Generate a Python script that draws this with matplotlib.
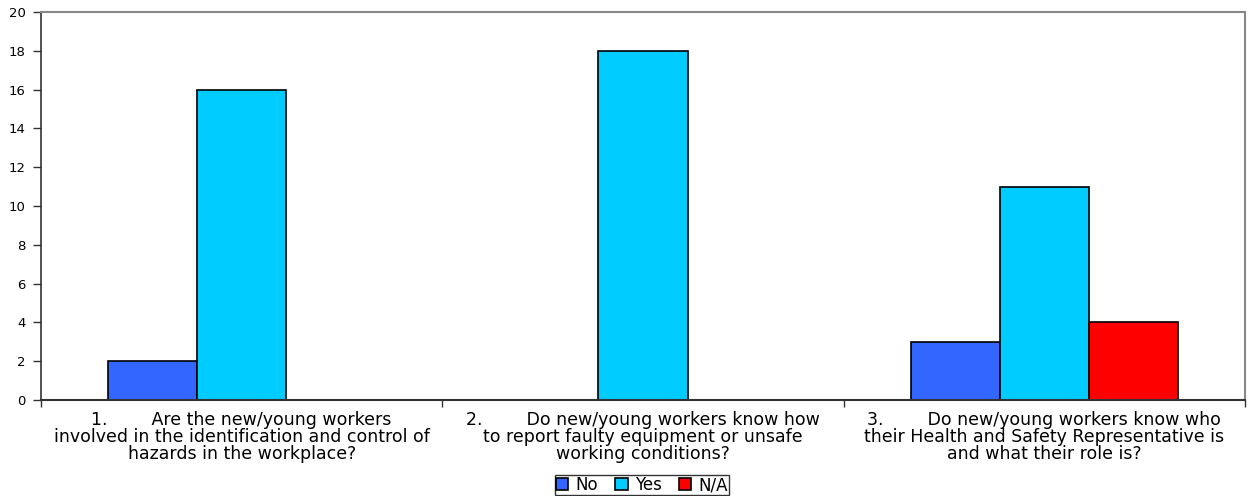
import matplotlib
matplotlib.use("Agg")
import matplotlib.pyplot as plt
import numpy as np

categories = [
    "1.        Are the new/young workers\ninvolved in the identification and control of\nhazards in the workplace?",
    "2.        Do new/young workers know how\nto report faulty equipment or unsafe\nworking conditions?",
    "3.        Do new/young workers know who\ntheir Health and Safety Representative is\nand what their role is?",
]
series_names = ["No", "Yes", "N/A"]
no_vals = [2, 0, 3]
yes_vals = [16, 18, 11]
na_vals = [0, 0, 4]
colors = ["#3366FF", "#00CCFF", "#FF0000"]
yticks = list(range(0, 21, 2))

plt.rcParams['font.family'] = ['DejaVu Sans']

fig = plt.figure(figsize=(12.48, 4.96), dpi=100)
ax = fig.add_axes([41/1248, 1 - 400/496, (1245-41)/1248, (400-12)/496])

x = np.arange(len(categories))
w = 1/4.5
handles = []
for i, (vals, name, c) in enumerate(zip([no_vals, yes_vals, na_vals], series_names, colors)):
    bars = ax.bar(x + (i - 1) * w, vals, width=w, color=c, edgecolor='black', linewidth=1.2, label=name)
    handles.append(bars)

ax.set_xlim(-0.5, 2.5)
ax.set_ylim(0, 20)
ax.set_yticks(yticks)
ax.tick_params(axis='y', labelsize=9.5, length=6, width=1, direction='out', color='#333333', pad=5)

ax.set_xticks([-0.5, 0.5, 1.5, 2.5])
ax.set_xticklabels([])
ax.tick_params(axis='x', which='major', length=5, width=1, direction='out', color='#333333')
ax.set_xticks(x, minor=True)
ax.set_xticklabels(categories, minor=True, fontsize=12.5, linespacing=0.92)
ax.tick_params(axis='x', which='minor', length=0, pad=8)

for s in ['top', 'right']:
    ax.spines[s].set_color('#888888')
    ax.spines[s].set_linewidth(1.5)
ax.spines['left'].set_color('#333333')
ax.spines['bottom'].set_color('#333333')
ax.spines['left'].set_linewidth(1.2)
ax.spines['bottom'].set_linewidth(1.5)

leg = fig.legend(handles=handles, labels=series_names, loc='center',
                 bbox_to_anchor=(642/1248, 1 - 485/496), ncol=3, fontsize=12,
                 frameon=True, fancybox=False, edgecolor='black', handlelength=0.75,
                 handleheight=0.7, handletextpad=0.45, columnspacing=1.0,
                 borderpad=0.05, borderaxespad=0)
leg.get_frame().set_linewidth(1.0)

fig.savefig("out.png", dpi=100)
